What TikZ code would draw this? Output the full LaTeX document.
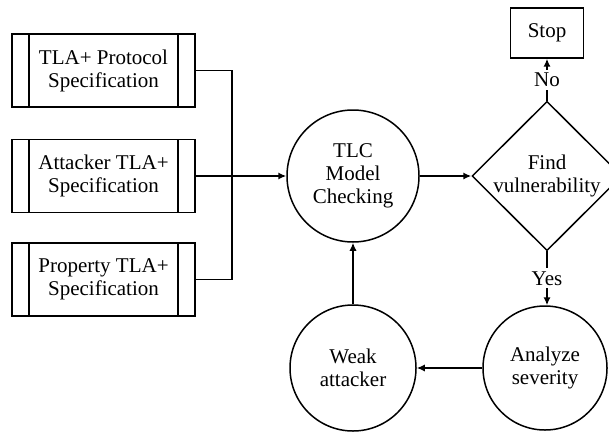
\documentclass[tikz,border=0pt]{standalone}
\usepackage{fontspec}
\setmainfont{Liberation Serif}
\usetikzlibrary{shapes.geometric,arrows.meta}
\begin{document}
\begin{tikzpicture}[x=0.5pt,y=-0.5pt,
  every node/.style={font=\fontsize{10.5}{11.5}\selectfont, align=center},
  line/.style={line width=0.75pt},
  arr/.style={line width=0.75pt,-{Latex[length=4pt,width=3.6pt]}},
  specbox/.style={draw, line width=0.75pt, rectangle, minimum width=91.5pt, minimum height=36.5pt, inner sep=0pt,
    path picture={
      \draw[line width=0.75pt] ([xshift=8.5pt]path picture bounding box.north west) -- ([xshift=8.5pt]path picture bounding box.south west);
      \draw[line width=0.75pt] ([xshift=-8.5pt]path picture bounding box.north east) -- ([xshift=-8.5pt]path picture bounding box.south east);
    }},
  circ/.style={draw, line width=0.75pt, circle, inner sep=0pt},
  dia/.style={draw, line width=0.75pt, diamond, minimum width=75pt, minimum height=61pt, inner sep=0pt},
  stopbox/.style={draw, line width=0.75pt, rectangle, minimum width=36.5pt, minimum height=25pt, inner sep=0pt},
  lbl/.style={fill=white, inner sep=1.5pt}
]
\useasboundingbox (0,0) rectangle (609,433);
\begin{scope}
\clip (0,0) rectangle (609,433);
\node[specbox] (b1) at (103.5,70.5) {TLA+ Protocol\\Specification};
\node[specbox] (b2) at (103.5,176) {Attacker TLA+\\Specification};
\node[specbox] (b3) at (103.5,279.5) {Property TLA+\\Specification};
\coordinate (j) at (232,176);
\node[circ, minimum size=66pt] (tlc) at (353,176) {TLC\\Model\\Checking};
\node[dia] (find) at (547,176) {Find\\vulnerability};
\node[stopbox] (stop) at (547,33) {Stop};
\node[circ, minimum size=62pt] (ana) at (545,368) {Analyze\\severity};
\node[circ, minimum size=63pt] (weak) at (353,368) {Weak\\attacker};

\draw[line] (b1.east) -| (j);
\draw[line] (b3.east) -| (j);
\draw[arr] (b2.east) -- (tlc.west);
\draw[arr] (tlc.east) -- (find.west);
\draw[arr] (find.north) -- node[lbl] {No} (stop.south);
\draw[arr] (find.south) -- node[lbl] {Yes} (find.south |- ana.north);
\draw[arr] (ana.west) -- (weak.east);
\draw[arr] (weak.north) -- (tlc.south);
\end{scope}
\end{tikzpicture}
\end{document}
